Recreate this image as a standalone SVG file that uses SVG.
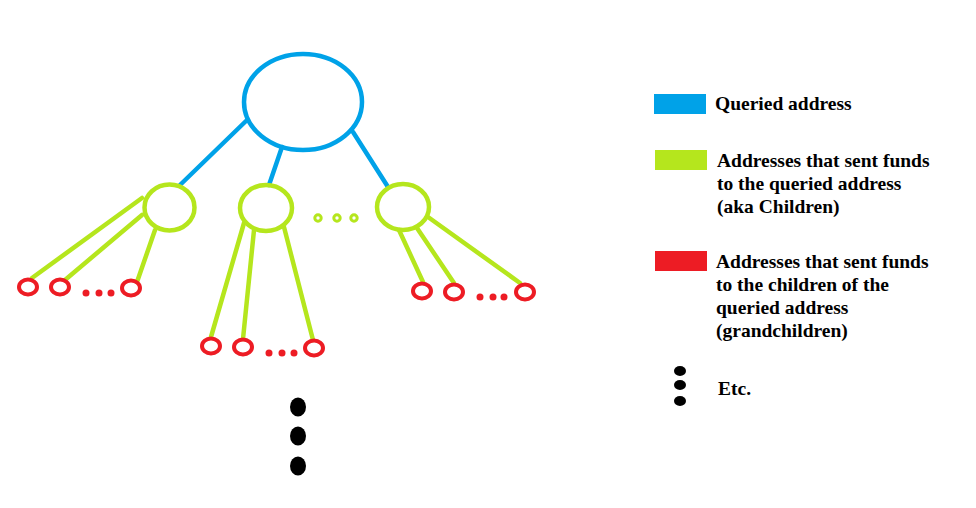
<svg xmlns="http://www.w3.org/2000/svg" width="976" height="508" viewBox="0 0 976 508">
<style>
.b{fill:none;stroke:#00A2E8;stroke-width:4.5}
.g{fill:none;stroke:#B5E61D;stroke-width:4.5}
.r{fill:none;stroke:#ED1C24;stroke-width:4}
.rd{fill:#ED1C24}
.gd{fill:none;stroke:#B5E61D;stroke-width:3}
.k{fill:#000}
text{font-family:"Liberation Serif","Times New Roman",serif;font-weight:bold;font-size:19.5px;fill:#000}
</style>
<rect width="976" height="508" fill="#fff"/>
<g id="connectors" stroke-linecap="round">
<line class="b" x1="246" y1="121" x2="180" y2="185"/>
<line class="b" x1="282" y1="147" x2="269" y2="185"/>
<line class="b" x1="353" y1="132" x2="388" y2="187"/>
<line class="g" x1="142" y1="198" x2="32" y2="278"/>
<line class="g" x1="142" y1="215" x2="65" y2="280"/>
<line class="g" x1="155" y1="230" x2="137" y2="282"/>
<line class="g" x1="244" y1="223" x2="211" y2="337"/>
<line class="g" x1="254" y1="230" x2="243" y2="339"/>
<line class="g" x1="284" y1="227" x2="313" y2="340"/>
<line class="g" x1="399" y1="230" x2="423" y2="282"/>
<line class="g" x1="417" y1="228" x2="454" y2="283"/>
<line class="g" x1="428" y1="217" x2="520" y2="283"/>
</g>
<g id="root"><ellipse class="b" cx="303" cy="102" rx="59" ry="48"/></g>
<g id="child1"><ellipse class="g" cx="169.5" cy="207.5" rx="25" ry="23"/></g>
<g id="child2"><ellipse class="g" cx="266" cy="208" rx="26" ry="23"/></g>
<g id="child3"><ellipse class="g" cx="403" cy="207" rx="26" ry="23"/></g>
<g id="child-dots">
<circle class="gd" cx="318" cy="218" r="3.2"/>
<circle class="gd" cx="337" cy="218" r="3.2"/>
<circle class="gd" cx="354" cy="218" r="3.2"/>
</g>
<g id="gc1">
<ellipse class="r" cx="28" cy="287" rx="9" ry="7.5"/>
<ellipse class="r" cx="60" cy="287" rx="9" ry="7.5"/>
<ellipse class="r" cx="131" cy="288" rx="9" ry="7.5"/>
<circle class="rd" cx="86" cy="293" r="3.5"/>
<circle class="rd" cx="99" cy="293" r="3.5"/>
<circle class="rd" cx="111" cy="293" r="3.5"/>
</g>
<g id="gc2">
<ellipse class="r" cx="211" cy="346" rx="9" ry="7.5"/>
<ellipse class="r" cx="243" cy="347" rx="9" ry="7.5"/>
<ellipse class="r" cx="314" cy="348" rx="9" ry="7.5"/>
<circle class="rd" cx="269" cy="353" r="3.5"/>
<circle class="rd" cx="282" cy="353" r="3.5"/>
<circle class="rd" cx="294" cy="353" r="3.5"/>
</g>
<g id="gc3">
<ellipse class="r" cx="422" cy="291" rx="9" ry="7.5"/>
<ellipse class="r" cx="454" cy="292" rx="9" ry="7.5"/>
<ellipse class="r" cx="525" cy="292" rx="9" ry="7.5"/>
<circle class="rd" cx="480" cy="297" r="3.5"/>
<circle class="rd" cx="493" cy="297" r="3.5"/>
<circle class="rd" cx="504" cy="297" r="3.5"/>
</g>
<g id="more">
<ellipse class="k" cx="298" cy="407" rx="8" ry="9.5"/>
<ellipse class="k" cx="298" cy="436" rx="8" ry="9.5"/>
<ellipse class="k" cx="298" cy="466" rx="8" ry="9.5"/>
</g>
<g id="legend">
<rect x="654" y="94" width="52" height="20" fill="#00A2E8"/>
<text x="715" y="110">Queried address</text>
<rect x="655" y="150" width="52" height="20" fill="#B5E61D"/>
<text x="717" y="167">Addresses that sent funds</text>
<text x="717" y="190">to the queried address</text>
<text x="717" y="213">(aka Children)</text>
<rect x="655" y="251" width="52" height="20" fill="#ED1C24"/>
<text x="716" y="268">Addresses that sent funds</text>
<text x="716" y="291">to the children of the</text>
<text x="716" y="314">queried address</text>
<text x="716" y="337">(grandchildren)</text>
<ellipse class="k" cx="680" cy="371" rx="6" ry="5"/>
<ellipse class="k" cx="680" cy="385" rx="6" ry="5"/>
<ellipse class="k" cx="680" cy="401" rx="6" ry="5"/>
<text x="718" y="395">Etc.</text>
</g>
</svg>
